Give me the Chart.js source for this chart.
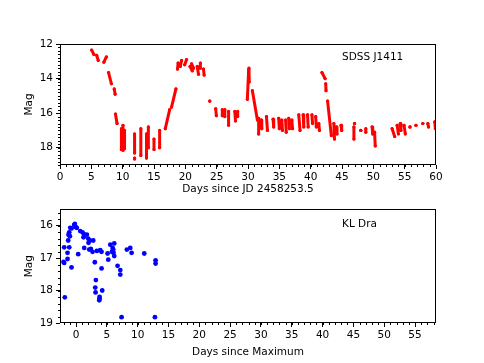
<!DOCTYPE html>
<html>
<head>
<meta charset="utf-8">
<script src="https://cdn.jsdelivr.net/npm/chart.js@4.4.1/dist/chart.umd.min.js"></script>
<style>
html, body { margin: 0; padding: 0; background: #fff; }
#wrap { position: relative; width: 484px; height: 363px; }
#wrap canvas { position: absolute; left: 0; }
</style>
</head>
<body>
<div id="wrap">
  <canvas id="top" width="484" height="200" style="top:0"></canvas>
  <canvas id="bot" width="484" height="163" style="top:200px"></canvas>
</div>
<script>
// SDSS J1411: each night is a short run of points, stored as start/end of the run
var nightStartDay = [5.05, 5.85, 7.0, 7.75, 8.65, 8.85, 9.8, 10.05, 10.3, 11.9, 11.9, 12.9, 13.8, 14.1, 15.0, 15.9,
    16.8, 17.8, 18.75, 19.2, 19.9, 20.75, 21.0, 21.9, 22.4, 22.9, 23.9, 24.85, 25.9, 26.3, 26.9, 27.9, 28.35,
    29.9, 30.15, 30.7, 31.7, 32.1, 32.95, 34.0, 34.9, 35.4, 36.0, 36.5, 37.0, 38.1, 38.8, 39.5, 40.2, 40.8, 41.3,
    41.8, 42.4, 42.7, 43.7, 44.1, 44.85, 46.9, 47.0, 48.0, 48.8, 49.8, 50.2, 53.0, 53.8, 54.3, 54.9, 55.85, 56.8,
    57.9, 58.7, 59.8];
var nightStartMag = [12.35, 12.65, 13.05, 13.65, 14.6, 16.05, 16.9, 16.7, 17.0, 17.2, 18.6, 16.9, 17.2, 16.8, 17.5, 17.0,
    16.9, 15.65, 13.45, 13.3, 13.2, 13.3, 13.15, 13.3, 13.1, 13.45, 15.3, 15.75, 15.8, 15.8, 15.9, 15.9, 15.9,
    15.2, 13.4, 14.7, 16.3, 16.4, 16.2, 16.35, 16.3, 16.4, 16.4, 16.3, 16.4, 16.1, 16.1, 16.1, 16.1, 16.2, 16.6,
    13.65, 14.3, 15.3, 16.6, 16.8, 16.7, 16.8, 16.6, 17.0, 16.9, 16.8, 17.1, 16.9, 16.7, 16.6, 16.7, 16.8, 16.7,
    16.6, 16.6, 16.5];
var nightEndDay = [5.4, 6.1, 7.4, 8.2, 8.8, 9.1, 9.8, 10.05, 10.3, 11.9, 11.9, 12.9, 13.8, 14.1, 15.0, 15.9,
    17.5, 18.5, 18.85, 19.4, 20.2, 21.1, 21.3, 22.1, 22.4, 23.0, 23.9, 24.95, 25.9, 26.3, 26.9, 28.0, 28.35,
    30.1, 30.2, 31.5, 31.7, 32.2, 33.1, 34.1, 35.0, 35.5, 36.1, 36.6, 37.1, 38.3, 38.9, 39.6, 40.3, 40.9, 41.4,
    42.3, 42.45, 43.3, 43.8, 44.2, 44.95, 46.9, 47.0, 48.0, 48.8, 49.9, 50.3, 53.4, 54.0, 54.4, 55.1, 55.85, 56.8,
    57.9, 58.8, 59.9];
var nightEndMag = [12.6, 12.95, 12.75, 14.3, 14.9, 16.6, 18.1, 18.15, 18.05, 18.3, 18.65, 18.45, 18.6, 18.0, 18.1, 18.0,
    15.8, 14.6, 13.1, 12.95, 12.9, 13.55, 13.4, 13.75, 13.4, 13.8, 15.3, 16.15, 16.15, 16.2, 16.7, 16.45, 16.2,
    13.5, 14.2, 16.4, 17.2, 16.9, 17.0, 16.8, 16.9, 17.0, 17.1, 16.9, 16.9, 17.0, 16.8, 16.8, 16.6, 16.8, 17.0,
    14.0, 14.7, 17.3, 17.5, 17.2, 17.0, 17.5, 16.6, 17.0, 17.1, 17.2, 17.9, 17.35, 17.2, 17.0, 17.2, 16.8, 16.7,
    16.6, 16.8, 16.9];

// KL Dra
var klDays = [-1.92, -2.03, -1.92, -1.82, -1.38, -1.38, -1.1, -1.27, -1.22, -1.1, -1.0, -0.94, -0.73, -0.73, -0.3,
    -0.19, -0.03, 0.13, 0.35, 0.68, 1.06, 1.22, 1.33, 1.33, 1.76, 1.98, 2.03, 2.14, 2.24, 2.4, 2.68, 2.79, 3.05,
    3.22, 3.12, 3.17, 3.38, 3.77, 3.82, 3.82, 3.93, 4.14, 4.14, 4.25, 5.12, 5.23, 5.56, 5.82, 5.93, 6.04, 6.09,
    6.2, 6.2, 6.74, 7.18, 7.18, 7.39, 8.25, 8.8, 9.02, 11.07, 12.8, 12.91, 12.91];
var klMag = [16.67, 17.12, 17.15, 18.21, 16.84, 17.03, 16.67, 16.46, 16.28, 16.21, 16.33, 16.07, 17.29, 16.09, 15.98,
    15.95, 16.05, 16.07, 16.88, 16.17, 16.21, 16.36, 16.69, 16.27, 16.28, 16.4, 16.53, 16.74, 16.46, 16.72, 16.81,
    16.46, 17.13, 17.68, 17.91, 18.06, 16.78, 18.3, 18.25, 18.2, 16.76, 16.81, 17.32, 18.0, 16.86, 17.05, 16.59,
    16.81, 16.69, 16.74, 16.84, 16.94, 16.55, 17.24, 17.37, 17.51, 18.82, 16.74, 16.69, 16.84, 16.86, 18.82,
    17.07, 17.17];

var topXTicks = [0, 5, 10, 15, 20, 25, 30, 35, 40, 45, 50, 55, 60];
var topYTicks = [12, 14, 16, 18];
var botXTicks = [0, 5, 10, 15, 20, 25, 30, 35, 40, 45, 50, 55];
var botYTicks = [16, 17, 18, 19];

Chart.defaults.font.family = 'DejaVu Sans';
Chart.defaults.font.size = 10.5;
Chart.defaults.color = '#000';

var nightPoints = [];
for (var i = 0; i < nightStartDay.length; i++) {
    nightPoints.push({x: nightStartDay[i], y: nightStartMag[i]});
    nightPoints.push({x: nightEndDay[i], y: nightEndMag[i]});
    nightPoints.push({x: nightEndDay[i], y: null});
}
var klPoints = klDays.map(function (d, i) { return {x: d, y: klMag[i]}; });

// box around the axes, minor ticks and the star name
var frame = {
    id: 'frame',
    afterDraw: function (chart, args, opts) {
        var ctx = chart.ctx, a = chart.chartArea;
        var xs = chart.scales.x, ys = chart.scales.y;
        ctx.save();
        ctx.strokeStyle = '#000';
        ctx.lineWidth = 1;
        ctx.strokeRect(Math.round(a.left) + 0.5, Math.round(a.top) + 0.5,
            Math.round(a.right) - Math.round(a.left) - 1, Math.round(a.bottom) - Math.round(a.top) - 1);
        ctx.beginPath();
        var n, p;
        for (n = Math.ceil(xs.min / opts.minorX - 1e-9); n * opts.minorX <= xs.max + 1e-9; n++) {
            p = Math.round(xs.getPixelForValue(n * opts.minorX)) + 0.5;
            ctx.moveTo(p, a.bottom);
            ctx.lineTo(p, a.bottom + 2);
        }
        for (n = Math.ceil(ys.min / opts.minorY - 1e-9); n * opts.minorY <= ys.max + 1e-9; n++) {
            p = Math.round(ys.getPixelForValue(n * opts.minorY)) + 0.5;
            ctx.moveTo(a.left, p);
            ctx.lineTo(a.left - 2, p);
        }
        ctx.stroke();
        ctx.fillStyle = '#000';
        ctx.font = '10.5px "DejaVu Sans"';
        ctx.textBaseline = 'middle';
        ctx.fillText(opts.label, a.left + opts.lx * (a.right - a.left), a.top + opts.ly * (a.bottom - a.top));
        ctx.restore();
    }
};

function scales(xMin, xMax, xTicks, xTitle, xHeight, yMin, yMax, yTicks) {
    return {
        x: {
            type: 'linear', min: xMin, max: xMax,
            afterBuildTicks: function (s) { s.ticks = xTicks.map(function (v) { return {value: v}; }); },
            afterFit: function (s) { s.height = xHeight; },
            ticks: {autoSkip: false, maxRotation: 0, padding: 2, color: '#000'},
            grid: {drawOnChartArea: false, tickLength: 4, tickColor: '#000', tickWidth: 1},
            border: {display: false},
            title: {display: true, text: xTitle, color: '#000', padding: {top: 4, bottom: 4}}
        },
        y: {
            type: 'linear', reverse: true, min: yMin, max: yMax,
            afterBuildTicks: function (s) { s.ticks = yTicks.map(function (v) { return {value: v}; }); },
            afterFit: function (s) { s.width = 42; },
            ticks: {autoSkip: false, padding: 3, color: '#000'},
            grid: {drawOnChartArea: false, tickLength: 4, tickColor: '#000', tickWidth: 1},
            border: {display: false},
            title: {display: true, text: 'Mag', color: '#000', padding: {top: 5, bottom: 5}}
        }
    };
}

new Chart(document.getElementById('top'), {
    type: 'scatter',
    data: {
        datasets: [{
            data: nightPoints,
            showLine: true,
            spanGaps: false,
            borderColor: '#ff0000',
            borderWidth: 3,
            borderCapStyle: 'round',
            borderJoinStyle: 'round',
            pointRadius: 1.6,
            pointBorderWidth: 0,
            pointBackgroundColor: '#ff0000'
        }]
    },
    options: {
        responsive: false,
        animation: false,
        layout: {padding: {left: 18, top: 44, right: 48, bottom: 0}},
        scales: scales(0, 60, topXTicks, 'Days since JD 2458253.5', 35, 12, 19, topYTicks),
        plugins: {
            legend: {display: false},
            tooltip: {enabled: false},
            frame: {minorX: 1, minorY: 0.2, label: 'SDSS J1411', lx: 0.75, ly: 0.11}
        }
    },
    plugins: [frame]
});

new Chart(document.getElementById('bot'), {
    type: 'scatter',
    data: {
        datasets: [{
            data: klPoints,
            pointRadius: 2.4,
            pointBorderWidth: 0,
            pointBackgroundColor: '#0000ff'
        }]
    },
    options: {
        responsive: false,
        animation: false,
        layout: {padding: {left: 18, top: 1, right: 48, bottom: 0}},
        scales: scales(-2.6, 58.4, botXTicks, 'Days since Maximum', 40, 15.5, 19, botYTicks),
        plugins: {
            legend: {display: false},
            tooltip: {enabled: false},
            frame: {minorX: 1, minorY: 0.2, label: 'KL Dra', lx: 0.75, ly: 0.13}
        }
    },
    plugins: [frame]
});
</script>
</body>
</html>
